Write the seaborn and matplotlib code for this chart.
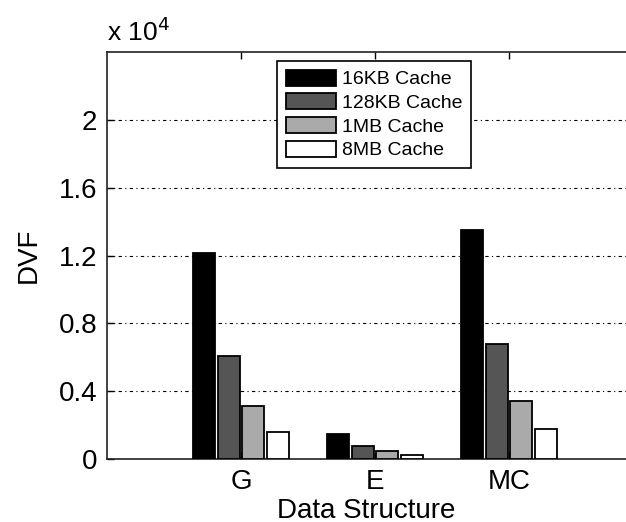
import pandas as pd
import matplotlib.pyplot as plt
import seaborn as sns

# --- Data ---
structures = ['G', 'E', 'MC']
caches = ['16KB Cache', '128KB Cache', '1MB Cache', '8MB Cache']
dvf_16kb = [12150, 1450, 13530]
dvf_128kb = [6100, 760, 6800]
dvf_1mb = [3130, 490, 3430]
dvf_8mb = [1570, 250, 1750]

rows = []
for cache, vals in zip(caches, [dvf_16kb, dvf_128kb, dvf_1mb, dvf_8mb]):
    for s, v in zip(structures, vals):
        rows.append({'Structure': s, 'Cache': cache, 'DVF': v})
df = pd.DataFrame(rows)

sns.set_style('ticks', {'text.color': 'black', 'axes.labelcolor': 'black',
                        'xtick.color': 'black', 'ytick.color': 'black',
                        'axes.edgecolor': 'black'})
plt.rcParams['font.family'] = ['Liberation Sans', 'DejaVu Sans']

fig = plt.figure(figsize=(6.26, 5.22), dpi=100)
# the original figure is cropped on the right, so the axes runs to the edge
ax = fig.add_axes([107 / 626, 63 / 522, 519 / 626, 407 / 522])

palette = ['#000000', '#555555', '#aaaaaa', '#ffffff']
sns.barplot(data=df, x='Structure', y='DVF', hue='Cache', hue_order=caches,
            palette=palette, width=0.73, gap=0.1, edgecolor='black',
            linewidth=1.3, saturation=1, ax=ax, zorder=3)

ax.set_xlim(-1, -1 + 519 / 134)
ax.set_ylim(0, 24000)
ax.set_yticks([0, 4000, 8000, 12000, 16000, 20000])
ax.set_yticklabels(['0', '0.4', '0.8', '1.2', '1.6', '2'])
ax.yaxis.grid(True, color='black', linewidth=0.8, linestyle=(0, (3, 3, 1, 3)))
ax.set_axisbelow(True)

ax.tick_params(direction='in', top=True, right=False, length=5, width=1,
               labelsize=20, pad=7)
for sp in ax.spines.values():
    sp.set_linewidth(1.2)
    sp.set_color('#222222')
ax.spines['right'].set_visible(False)

ax.set_xlabel('Data Structure', fontsize=20, labelpad=2)
ax.set_ylabel('DVF', fontsize=20, labelpad=12)
ax.text(0, 1.015, r'x 10$^4$', transform=ax.transAxes, fontsize=19,
        ha='left', va='bottom')

handles, labels = ax.get_legend_handles_labels()
leg = ax.legend(handles, labels, loc='upper left', bbox_to_anchor=(170 / 519, 0.978),
                fontsize=14, frameon=True, fancybox=False, framealpha=1,
                edgecolor='black', handlelength=2.6, handleheight=0.9,
                labelspacing=0.25, handletextpad=0.3, borderpad=0.45,
                borderaxespad=0)
leg.get_frame().set_linewidth(1.2)

plt.savefig('out.png', dpi=100)
